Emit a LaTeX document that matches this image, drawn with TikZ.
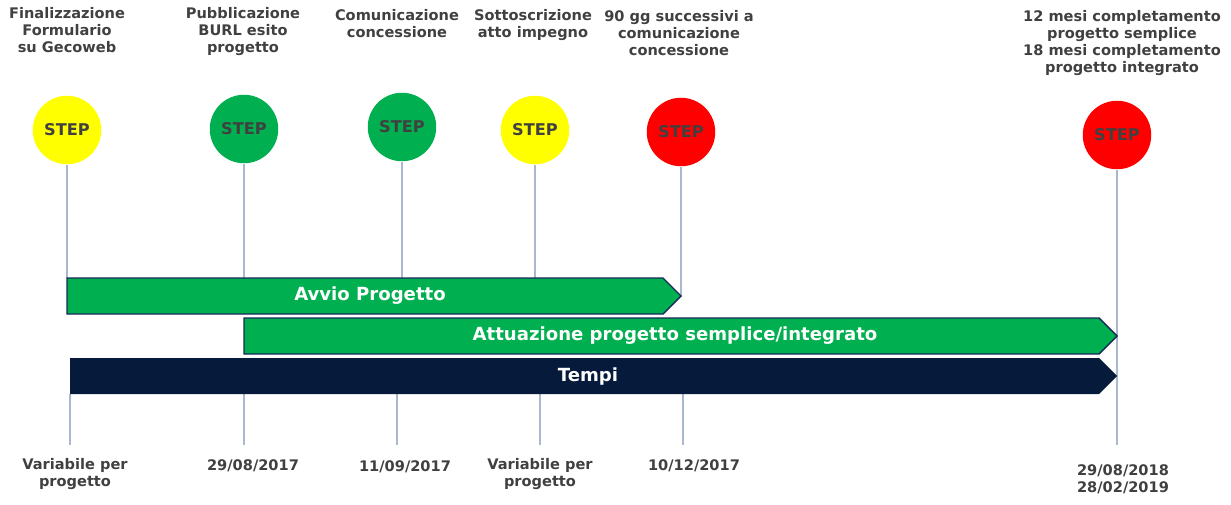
\documentclass[tikz,border=0pt]{standalone}
\usepackage{fontspec}
\setmainfont{DejaVu Sans}
\usetikzlibrary{positioning}
\definecolor{giallo}{HTML}{FFFF00}
\definecolor{verde}{HTML}{00B050}
\definecolor{rosso}{HTML}{FF0000}
\definecolor{notte}{HTML}{061A3C}
\definecolor{grigioblu}{HTML}{A9B7D1}
\definecolor{testo}{HTML}{404040}
\definecolor{bordo}{HTML}{17285A}

\begin{document}
\begin{tikzpicture}[x=0.02cm,y=-0.02cm]
%stili
\tikzstyle{stepnode}=[circle,minimum size=1.37cm,inner sep=0pt,text=testo,font=\fontsize{9.2}{11}\selectfont\bfseries]
\tikzstyle{evento}=[align=center,anchor=north,inner sep=0pt,text=testo,font=\fontsize{8.3}{9.7}\selectfont\bfseries]
\tikzstyle{asse}=[draw=grigioblu,line width=0.6pt]
\tikzstyle{barra}=[draw=bordo,line width=0.8pt]
\tikzstyle{scritta}=[text=white,font=\fontsize{10.3}{12}\selectfont\bfseries]

\useasboundingbox (0,0) rectangle (1231,504);

%gli step
\node[stepnode,fill=giallo] (s1) at (67,130) {STEP};
\node[stepnode,fill=verde]  (s2) at (244,129) {STEP};
\node[stepnode,fill=verde]  (s3) at (402,127) {STEP};
\node[stepnode,fill=giallo] (s4) at (535,130) {STEP};
\node[stepnode,fill=rosso]  (s5) at (681,132) {STEP};
\node[stepnode,fill=rosso]  (s6) at (1117,135) {STEP};

%eventi in alto
\node[evento] (e1) at (67,7) {Finalizzazione\\Formulario\\su Gecoweb};
\node[evento] (e2) at (243,7) {Pubblicazione\\BURL esito\\progetto};
\node[evento] (e3) at (397,9) {Comunicazione\\concessione};
\node[evento] (e4) at (533,9) {Sottoscrizione\\atto impegno};
\node[evento] (e5) at (679,10) {90 gg successivi a\\comunicazione\\concessione};
\node[evento] (e6) at (1122,10) {12 mesi completamento\\progetto semplice\\18 mesi completamento\\progetto integrato};

%linee verticali
\coordinate (b1) at (67,278);  \coordinate (b2) at (244,278);
\coordinate (b3) at (402,278); \coordinate (b4) at (535,278);
\coordinate (b5) at (681,296); \coordinate (b6) at (1117,445);
\draw[asse] (s1) -- (b1);
\draw[asse] (s2) -- (b2);
\draw[asse] (s3) -- (b3);
\draw[asse] (s4) -- (b4);
\draw[asse] (s5) -- (b5);
\draw[asse] (s6) -- (b6);
\coordinate (t1) at (70,394);  \coordinate (f1) at (70,445);
\coordinate (t2) at (244,394); \coordinate (f2) at (244,445);
\coordinate (t3) at (397,394); \coordinate (f3) at (397,445);
\coordinate (t4) at (540,394); \coordinate (f4) at (540,445);
\coordinate (t5) at (683,394); \coordinate (f5) at (683,445);
\draw[asse] (t1) -- (f1);
\draw[asse] (t2) -- (f2);
\draw[asse] (t3) -- (f3);
\draw[asse] (t4) -- (f4);
\draw[asse] (t5) -- (f5);

%le barre
\draw[barra,fill=verde] (67,278) -- (663,278) -- (681,296) -- (663,314) -- (67,314) -- cycle;
\node[scritta] (avvio) at (370,296) {Avvio Progetto};
\draw[barra,fill=verde] (244,318) -- (1099,318) -- (1117,336) -- (1099,354) -- (244,354) -- cycle;
\node[scritta] (attuazione) at (675,336) {Attuazione progetto semplice/integrato};
\fill[notte] (70,358) -- (1099,358) -- (1117,376) -- (1099,394) -- (70,394) -- cycle;
\node[scritta] (tempi) at (588,377) {Tempi};

%date in basso
\node[evento] (d1) at (75,458) {Variabile per\\progetto};
\node[evento] (d2) at (253,459) {29/08/2017};
\node[evento] (d3) at (405,460) {11/09/2017};
\node[evento] (d4) at (540,458) {Variabile per\\progetto};
\node[evento] (d5) at (694,459) {10/12/2017};
\node[evento] (d6) at (1123,464) {29/08/2018\\28/02/2019};

\end{tikzpicture}
\end{document}
